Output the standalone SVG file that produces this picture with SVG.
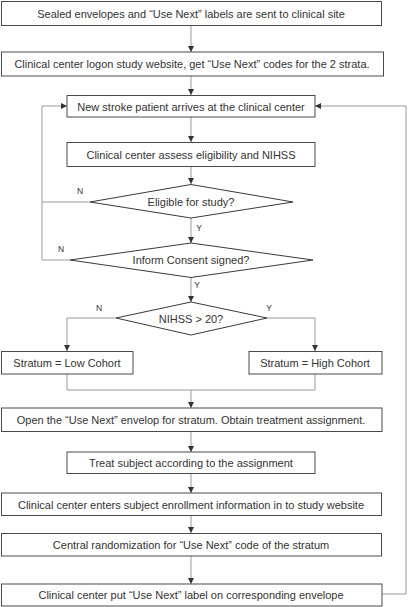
<svg xmlns="http://www.w3.org/2000/svg" width="408" height="607" viewBox="0 0 408 607">
<style>
.box{fill:#fff;stroke:#4a4a4a;stroke-width:1}
.dia{fill:#fff;stroke:#3a3a3a;stroke-width:1}
.t{font-family:"Liberation Sans",Arial,sans-serif;font-size:11px;fill:#333;text-anchor:middle}
.l{font-family:"Liberation Sans",Arial,sans-serif;font-size:8.5px;fill:#333;text-anchor:middle}
.c{fill:none;stroke:#9a9a9a;stroke-width:1}
.ca{fill:none;stroke:#9a9a9a;stroke-width:1;marker-end:url(#ah)}
</style>
<defs>
<marker id="ah" markerUnits="userSpaceOnUse" markerWidth="6" markerHeight="8" refX="6" refY="3" orient="auto">
<path d="M0,0 L6,3 L0,6 Z" fill="#333"/>
</marker>
</defs>
<rect width="408" height="607" fill="#fff"/>
<g id="connectors">
<path class="ca" d="M191,25 V52"/>
<path class="ca" d="M191,76 V95"/>
<path class="ca" d="M191,117 V142"/>
<path class="ca" d="M191,167 V184"/>
<path class="ca" d="M191,218 V243"/>
<path class="ca" d="M191,277 V302"/>
<path class="ca" d="M116,318 H67 V351"/>
<path class="ca" d="M267,318 H315 V351"/>
<path class="c" d="M67,374 V390 H315 V374"/>
<path class="ca" d="M191,390 V408"/>
<path class="ca" d="M191,431 V452"/>
<path class="ca" d="M191,474 V493"/>
<path class="ca" d="M191,516 V533"/>
<path class="ca" d="M191,556 V584"/>
<path class="c" d="M90,202 H42" stroke="#666"/>
<path class="ca" d="M70,260 H42 V106 H67"/>
<path class="ca" d="M382,594 H406 V106 H315"/>
<text class="l" x="80" y="194">N</text>
<text class="l" x="61" y="252">N</text>
<text class="l" x="199" y="231">Y</text>
<text class="l" x="197" y="288">Y</text>
<text class="l" x="99" y="311">N</text>
<text class="l" x="269" y="311">Y</text>
</g>
<g id="n1"><rect class="box" x="1.5" y="1.5" width="380" height="24"/><text class="t" x="191" y="17.5">Sealed envelopes and “Use Next” labels are sent to clinical site</text></g>
<g id="n2"><rect class="box" x="1.5" y="52" width="382" height="24"/><text class="t" x="192" y="68">Clinical center logon study website, get “Use Next” codes for the 2 strata.</text></g>
<g id="n3"><rect class="box" x="67" y="95.5" width="248" height="21.5"/><text class="t" x="191" y="110.5">New stroke patient arrives at the clinical center</text></g>
<g id="n4"><rect class="box" x="67" y="142.5" width="248" height="24"/><text class="t" x="191" y="158.5">Clinical center assess eligibility and NIHSS</text></g>
<g id="d1"><polygon class="dia" points="191,184.5 293,202 191,218 90,202"/><text class="t" x="191" y="205.5">Eligible for study?</text></g>
<g id="d2"><polygon class="dia" points="191,243 313,260 191,277.5 70,260"/><text class="t" x="191" y="264">Inform Consent signed?</text></g>
<g id="d3"><polygon class="dia" points="191,302 267,318 191,335 116,318"/><text class="t" x="191" y="322.5">NIHSS &gt; 20?</text></g>
<g id="low"><rect class="box" x="1.5" y="351.5" width="131.5" height="22.5"/><text class="t" x="67" y="366.5">Stratum = Low Cohort</text></g>
<g id="high"><rect class="box" x="249" y="351.5" width="133" height="22.5"/><text class="t" x="315" y="366.5">Stratum = High Cohort</text></g>
<g id="n5"><rect class="box" x="1.5" y="408" width="380.5" height="23.5"/><text class="t" x="191" y="423.5">Open the “Use Next” envelop for stratum. Obtain treatment assignment.</text></g>
<g id="n6"><rect class="box" x="67" y="452" width="248" height="21.5"/><text class="t" x="191" y="466.5">Treat subject according to the assignment</text></g>
<g id="n7"><rect class="box" x="1.5" y="493" width="380" height="22.5"/><text class="t" x="191" y="508.5">Clinical center enters subject enrollment information in to study website</text></g>
<g id="n8"><rect class="box" x="1.5" y="533.5" width="380" height="22.5"/><text class="t" x="191" y="548.5">Central randomization for “Use Next” code of the stratum</text></g>
<g id="n9"><rect class="box" x="1.5" y="584" width="380.5" height="22"/><text class="t" x="191" y="599">Clinical center put “Use Next” label on corresponding envelope</text></g>
</svg>
